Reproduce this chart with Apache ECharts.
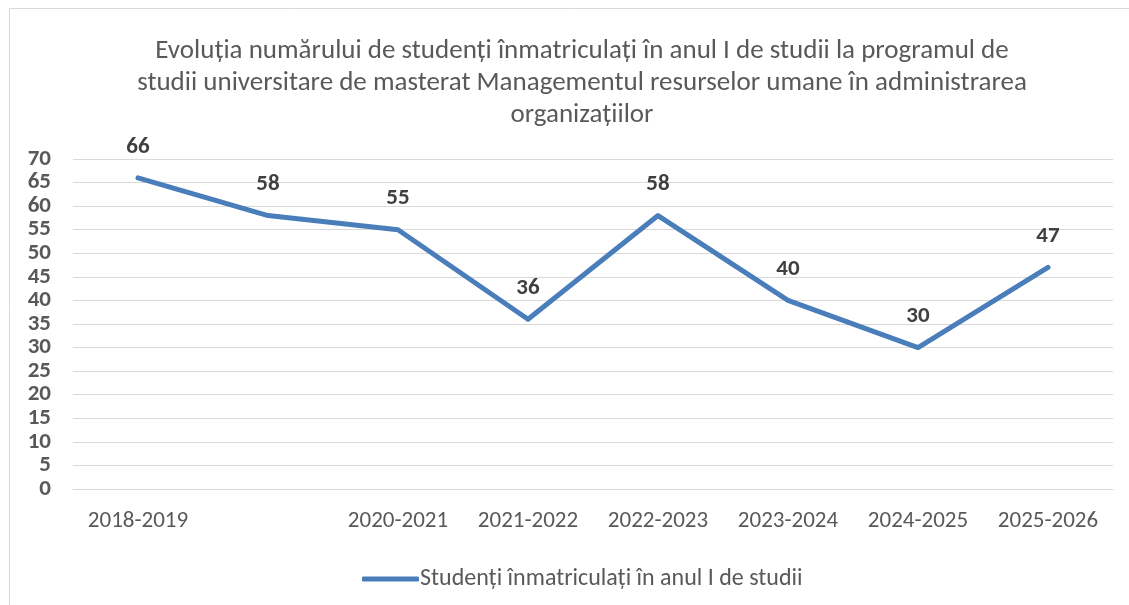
<!DOCTYPE html>
<html>
<head>
<meta charset="utf-8">
<script src="https://cdn.jsdelivr.net/npm/echarts@6/dist/echarts.min.js"></script>
<style>
html, body { margin: 0; padding: 0; background: #fff; }
#main { width: 1129px; height: 605px; }
</style>
</head>
<body>
<div id="main"></div>
<script type="text/javascript">
// date grafic
var categories = ['2018-2019', '2019-2020', '2020-2021', '2021-2022', '2022-2023', '2023-2024', '2024-2025', '2025-2026'];
var xTickLabels = ['2018-2019', '', '2020-2021', '2021-2022', '2022-2023', '2023-2024', '2024-2025', '2025-2026'];
var studenti = [66, 58, 55, 36, 58, 40, 30, 47];
var seriesName = 'Studenți înmatriculați în anul I de studii';
var titleText = 'Evoluția numărului de studenți înmatriculați în anul I de studii la programul de\nstudii universitare de masterat Managementul resurselor umane în administrarea\norganizațiilor';

var font = 'Carlito, Lato, sans-serif';
var myChart = echarts.init(document.getElementById('main'));

var option = {
    animation: false,
    textStyle: { fontFamily: font },
    graphic: [{
        type: 'rect',
        shape: { x: 9.5, y: 8.5, width: 1130, height: 610 },
        style: { fill: 'none', stroke: '#d9d9d9', lineWidth: 1 },
        silent: true
    }],
    title: {
        text: titleText,
        left: 577,
        textAlign: 'center',
        top: 30,
        textStyle: {
            fontFamily: font,
            fontSize: 27,
            fontWeight: 'normal',
            color: '#595959',
            lineHeight: 32
        }
    },
    legend: {
        data: [seriesName],
        top: 562,
        left: 357,
        itemWidth: 57,
        itemHeight: 5,
        itemGap: 0,
        icon: 'roundRect',
        textStyle: { fontFamily: font, fontSize: 24, color: '#595959', padding: [0, 0, 0, -4] }
    },
    grid: {
        left: 73,
        right: 16,
        top: 159,
        bottom: 116
    },
    xAxis: {
        type: 'category',
        data: categories,
        boundaryGap: true,
        axisLine: { show: true, lineStyle: { color: '#d9d9d9', width: 1 } },
        axisTick: { show: false },
        axisLabel: {
            interval: 0,
            margin: 21,
            fontFamily: font,
            fontSize: 23,
            color: '#595959',
            formatter: function (v, i) { return xTickLabels[i]; }
        }
    },
    yAxis: {
        type: 'value',
        min: 0,
        max: 70,
        interval: 5,
        axisLine: { show: false },
        axisTick: { show: false },
        splitLine: { lineStyle: { color: '#d9d9d9', width: 1 } },
        axisLabel: {
            margin: 22,
            fontFamily: font,
            fontSize: 23,
            fontWeight: 'bold',
            color: '#595959'
        }
    },
    series: [{
        name: seriesName,
        type: 'line',
        data: studenti,
        symbol: 'circle',
        symbolSize: 1,
        showSymbol: true,
        lineStyle: { color: '#4a7ebb', width: 5, cap: 'round', join: 'round' },
        itemStyle: { color: '#4a7ebb' },
        label: {
            show: true,
            position: 'top',
            distance: 19,
            fontFamily: font,
            fontSize: 23,
            fontWeight: 'bold',
            color: '#404040'
        }
    }]
};

myChart.setOption(option);
</script>
</body>
</html>
